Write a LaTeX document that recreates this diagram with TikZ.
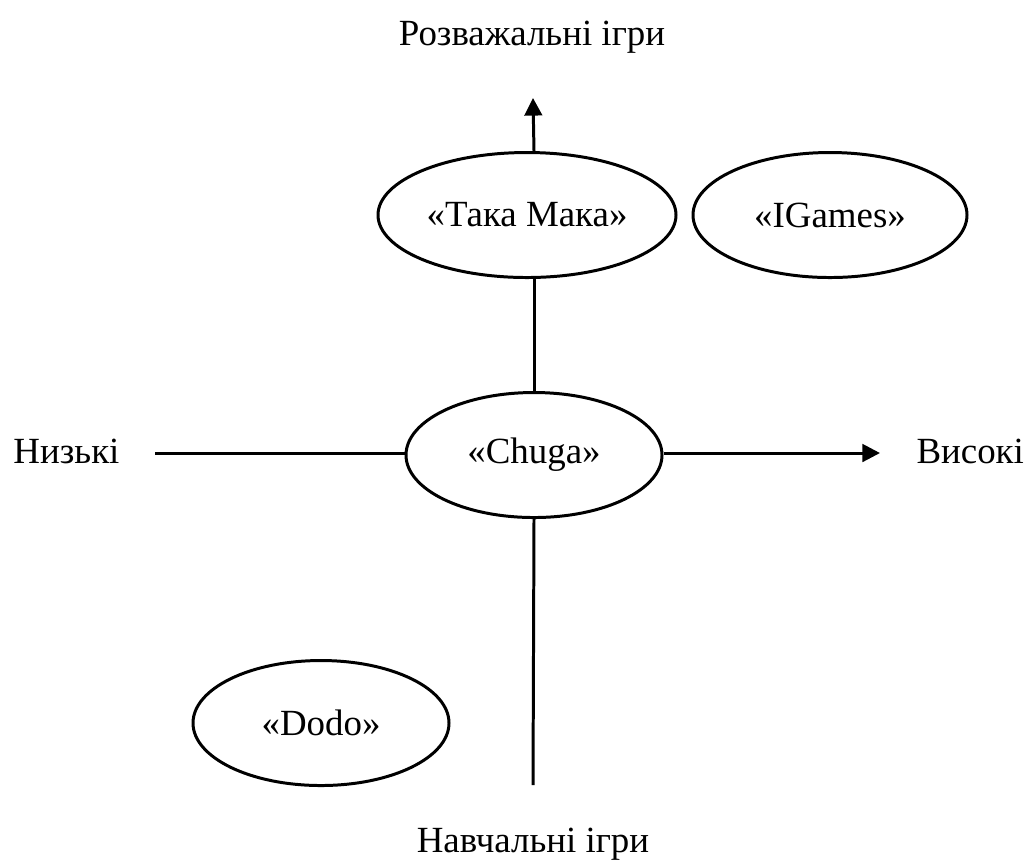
\documentclass[tikz,border=0pt]{standalone}
\usepackage{fontspec}
\setmainfont{Liberation Serif}
\usetikzlibrary{arrows.meta,shapes.geometric}

\begin{document}
\begin{tikzpicture}
      [line width = 0.85pt,
      every node/.style = {font = \fontsize{10.5}{12}\selectfont},
      axis/.style = {-{Triangle[length = 5pt, width = 5pt]}},
      firm/.style = {
         draw,
         ellipse,
         inner sep = 0pt,
         minimum height = 1.25cm
      },
      label/.style = {anchor = base, inner sep = 0pt}]

      \useasboundingbox (0, 0) rectangle (10.25, -8.62);

      \node[firm, minimum width = 2.98cm] (takamaka) at (5.27, -2.15) {«Така Мака»};
      \node[firm, minimum width = 2.74cm] (igames) at (8.30, -2.15) {«IGames»};
      \node[firm, minimum width = 2.56cm] (chuga) at (5.34, -4.55) {«Chuga»};
      \node[firm, minimum width = 2.56cm] (dodo) at (3.21, -7.23) {«Dodo»};

      \node[label] (fun) at (5.32, -0.45) {Розважальні ігри};
      \node[label] (edu) at (5.33, -8.52) {Навчальні ігри};
      \node[label, anchor = base west] (low) at (0.12, -4.63) {Низькі};
      \node[label, anchor = base west] (high) at (9.15, -4.63) {Високі};

      \coordinate (top) at (5.33, -0.98);
      \coordinate (bottom) at (5.33, -7.85);
      \coordinate (left) at (1.55, -4.53);
      \coordinate (right) at (8.80, -4.53);

      \draw[axis] (chuga.north |- takamaka.north) -- (top);
      \draw (chuga.north) -- (chuga.north |- takamaka.south);
      \draw (chuga.south) -- (bottom);
      \draw (left) -- (left -| chuga.west);
      \draw[axis] (right -| chuga.east) -- (right);

   \end{tikzpicture}
\end{document}
